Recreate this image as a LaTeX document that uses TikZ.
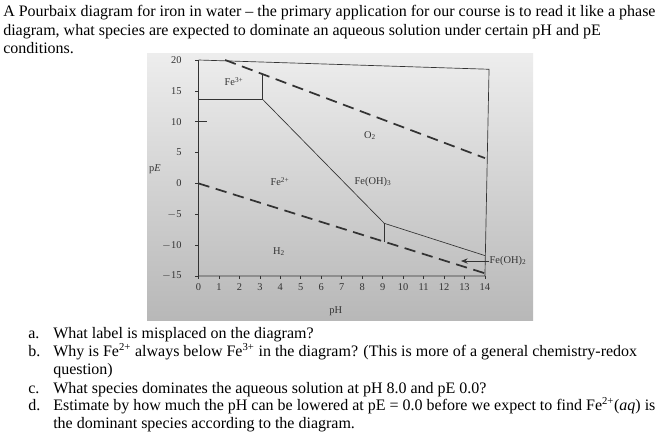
\documentclass[tikz,border=0pt]{standalone}
\usepackage{fontspec}
\setmainfont{Liberation Serif}
\usetikzlibrary{arrows.meta}
\definecolor{ink}{HTML}{333333}
\tikzset{
  bodytext/.style={anchor=base west, inner sep=0pt, font=\fontsize{12}{14}\selectfont},
  ticklab/.style={inner sep=0pt, text=ink, font=\fontsize{7.8}{9}\selectfont},
  species/.style={inner sep=0pt, text=ink, font=\fontsize{7.8}{9}\selectfont},
  bound/.style={draw=ink, line width=0.5pt},
  dashbound/.style={draw=ink, line width=1.3pt, dash pattern=on 8.5pt off 5pt},
}
\begin{document}
\begin{tikzpicture}[x=0.75pt, y=-0.75pt]
\useasboundingbox (0,0) rectangle (659,436);
\fill[white] (0,0) rectangle (659,436);
% top paragraph
\node[bodytext] (t1) at (3,16.7) {A Pourbaix diagram for iron in water -- the primary application for our course is to read it like a phase};
\node[bodytext] (t2) at (3,35) {diagram, what species are expected to dominate an aqueous solution under certain pH and pE};
\node[bodytext] (t3) at (3,53.3) {conditions.};
% photo background
\shade[top color=black!7, bottom color=black!28] (147,53) rectangle (533,320);
% plot
\begin{scope}[shift={(148.875pt,-137.55pt)}, x=15.345pt, y=4.6275pt]
  \coordinate (o) at (0,-15);
  \coordinate (tl) at (0,20);
  \coordinate (br) at (14,-15);
  \coordinate (tr) at (14.2,18.5);
  \draw[bound] (tl) -- (o) -- (br) -- (tr) -- (tl);
  % y ticks
  \foreach \v in {20,15,...,-15} {
    \draw[bound] (0,\v) -- ++(-3pt,0);
    \node[ticklab, anchor=east] (yl\v) at (-0.82,\v) {\ifnum\v<0 $-$\number-\v\else\v\fi};
  }
  \draw[bound] (0,10) -- ++(6pt,0);
  % x ticks
  \foreach \h in {0,...,14} {
    \draw[bound] (\h,-15) -- ++(0,-2.2pt);
    \node[ticklab] (xl\h) at (\h,-16.85) {\h};
  }
  % boundaries
  \coordinate (a1) at (0,13.6);
  \coordinate (a2) at (3.14,13.6);
  \coordinate (a3) at (3.14,17.70);
  \coordinate (b1) at (9.08,-6.47);
  \coordinate (b2) at (14,-11.7);
  \coordinate (b3) at (9.08,-9.45);
  \draw[bound] (a1) -- (a2) -- (a3);
  \draw[bound] (a2) -- (b1) -- (b2);
  \draw[bound] (b1) -- (b3);
  \coordinate (o2a) at (1.3,20);
  \coordinate (o2b) at (14,4.1);
  \draw[dashbound] (o2a) -- (o2b);
  \coordinate (h2a) at (0,0);
  \coordinate (h2b) at (14,-14.57);
  \draw[dashbound] (h2a) -- (h2b);
  % labels
  \node[species] (fe3) at (1.74,16.5) {Fe\textsuperscript{3+}};
  \node[species] (o2) at (8.38,7.8) {O\textsubscript{2}};
  \node[species] (fe2) at (3.98,0.3) {Fe\textsuperscript{2+}};
  \node[species] (feoh3) at (8.53,0.3) {Fe(OH)\textsubscript{3}};
  \node[species] (h2) at (3.93,-11.0) {H\textsubscript{2}};
  \node[species, anchor=west] (feoh2) at (14.22,-12.58) {Fe(OH)\textsubscript{2}};
  \coordinate (arrtip) at (12.83,-12.58);
  \draw[bound, line width=0.7pt, -{Stealth[length=5pt,width=4pt]}] (feoh2.west) -- (arrtip);
\end{scope}
\node[species] (pe) at (155,169) {p\textit{E}};
\node[species] (ph) at (335.7,311) {pH};
% questions
\node[bodytext] (qa) at (28,338.3) {a.};
\node[bodytext] (qat) at (53,338.3) {What label is misplaced on the diagram?};
\node[bodytext] (qb) at (28,356.7) {b.};
\node[bodytext] (qbt) at (53,356.7) {Why is Fe\textsuperscript{2+} always below Fe\textsuperscript{3+} in the diagram? (This is more of a general chemistry-redox};
\node[bodytext] (qbt2) at (53,374.3) {question)};
\node[bodytext] (qc) at (28,393.3) {c.};
\node[bodytext] (qct) at (53,393.3) {What species dominates the aqueous solution at pH 8.0 and pE 0.0?};
\node[bodytext] (qd) at (28,410.7) {d.};
\node[bodytext] (qdt) at (53,410.7) {Estimate by how much the pH can be lowered at pE = 0.0 before we expect to find Fe\textsuperscript{2+}(\textit{aq}) is};
\node[bodytext] (qdt2) at (53,428.3) {the dominant species according to the diagram.};
\end{tikzpicture}
\end{document}
